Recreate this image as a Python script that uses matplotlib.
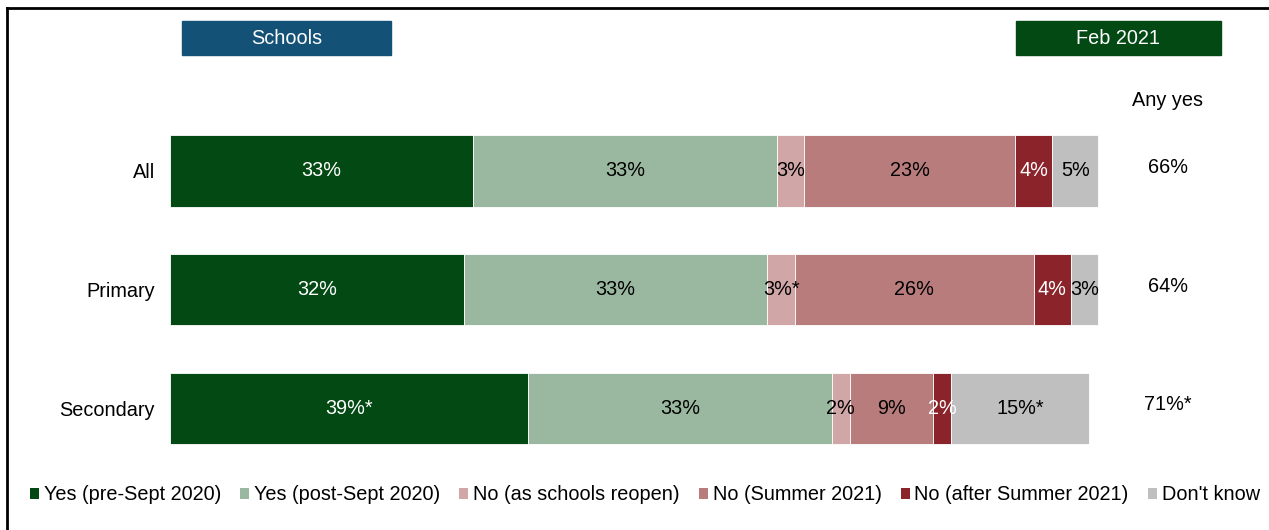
import matplotlib.pyplot as plt
from matplotlib.patches import Patch, Rectangle
from matplotlib.lines import Line2D

plt.rcParams['font.family'] = ['Liberation Sans', 'DejaVu Sans']

# Survey groups and answer categories
groups = ['All', 'Primary', 'Secondary']
series = ['Yes (pre-Sept 2020)', 'Yes (post-Sept 2020)', 'No (as schools reopen)',
          'No (Summer 2021)', 'No (after Summer 2021)', "Don't know"]

yes_pre = [33, 32, 39]
yes_post = [33, 33, 33]
no_reopen = [3, 3, 2]
no_summer = [23, 26, 9]
no_after = [4, 4, 2]
dont_know = [5, 3, 15]

# Significance markers shown next to segment values
sig_yes_pre = ['', '', '*']
sig_yes_post = ['', '', '']
sig_no_reopen = ['', '*', '']
sig_no_summer = ['', '', '']
sig_no_after = ['', '', '']
sig_dont_know = ['', '', '*']

any_yes = ['66%', '64%', '71%*']

colors = ['#034913', '#9AB7A0', '#D1A6A7', '#B87C7C', '#8B242A', '#BFBFBF']
text_colors = ['white', 'black', 'black', 'black', 'white', 'black']

values = [yes_pre, yes_post, no_reopen, no_summer, no_after, dont_know]
sigs = [sig_yes_pre, sig_yes_post, sig_no_reopen, sig_no_summer, sig_no_after, sig_dont_know]

FS = 14.3
W, H = 1269, 530
fig = plt.figure(figsize=(W / 100, H / 100), dpi=100)

px_per_unit = 9.19
ax_left = 170
ax_top, ax_bottom = 111.6, 467.9
xmax = 110
ax = fig.add_axes([ax_left / W, 1 - ax_bottom / H,
                   xmax * px_per_unit / W, (ax_bottom - ax_top) / H])

ypos = list(range(len(groups)))
left = [0] * len(groups)
for vals, sg, col, tcol in zip(values, sigs, colors, text_colors):
    ax.barh(ypos, vals, left=left, height=0.6, color=col,
            edgecolor='white', linewidth=0.6)
    for i, (v, s) in enumerate(zip(vals, sg)):
        ax.text(left[i] + v / 2, i, f'{v}%{s}', ha='center', va='center',
                fontsize=FS, color=tcol)
    left = [l + v for l, v in zip(left, vals)]

ax.set_xlim(0, xmax)
ax.set_ylim(2.5, -0.5)
ax.set_yticks(ypos)
ax.set_yticklabels(groups, fontsize=FS)
ax.tick_params(axis='y', length=0, pad=11)
ax.set_xticks([])
for sp in ax.spines.values():
    sp.set_visible(False)

# "Any yes" column
anyx = (1168 - ax_left) / px_per_unit
ax.text(anyx, -0.59, 'Any yes', ha='center', va='center', fontsize=FS, clip_on=False)
for i, t in enumerate(any_yes):
    ax.text(anyx, i - 0.03, t, ha='center', va='center', fontsize=FS, clip_on=False)

# Header boxes
def header(x0, x1, y0, y1, color, label):
    fig.patches.append(Rectangle((x0 / W, 1 - y1 / H), (x1 - x0) / W, (y1 - y0) / H,
                                 transform=fig.transFigure, color=color))
    fig.text((x0 + x1) / 2 / W, 1 - (y0 + y1) / 2 / H, label, ha='center',
             va='center', fontsize=FS, color='white')

header(182, 391, 21, 55, '#135176', 'Schools')
header(1016, 1221, 21, 55, '#034913', 'Feb 2021')

# Frame lines along top and left
fig.lines.append(Line2D([7 / W, 7 / W], [0, 1 - 8 / H], transform=fig.transFigure,
                        color='black', linewidth=2))
fig.lines.append(Line2D([7 / W, 1], [1 - 8 / H, 1 - 8 / H], transform=fig.transFigure,
                        color='black', linewidth=2))

handles = [Patch(facecolor=c) for c in colors]
fig.legend(handles, series, loc='center', bbox_to_anchor=(645 / W, 1 - 495 / H),
           ncol=6, frameon=False, fontsize=FS, handlelength=0.45, handleheight=0.45,
           handletextpad=0.25, columnspacing=0.95, borderpad=0, borderaxespad=0)

fig.savefig('out.png', dpi=100)
